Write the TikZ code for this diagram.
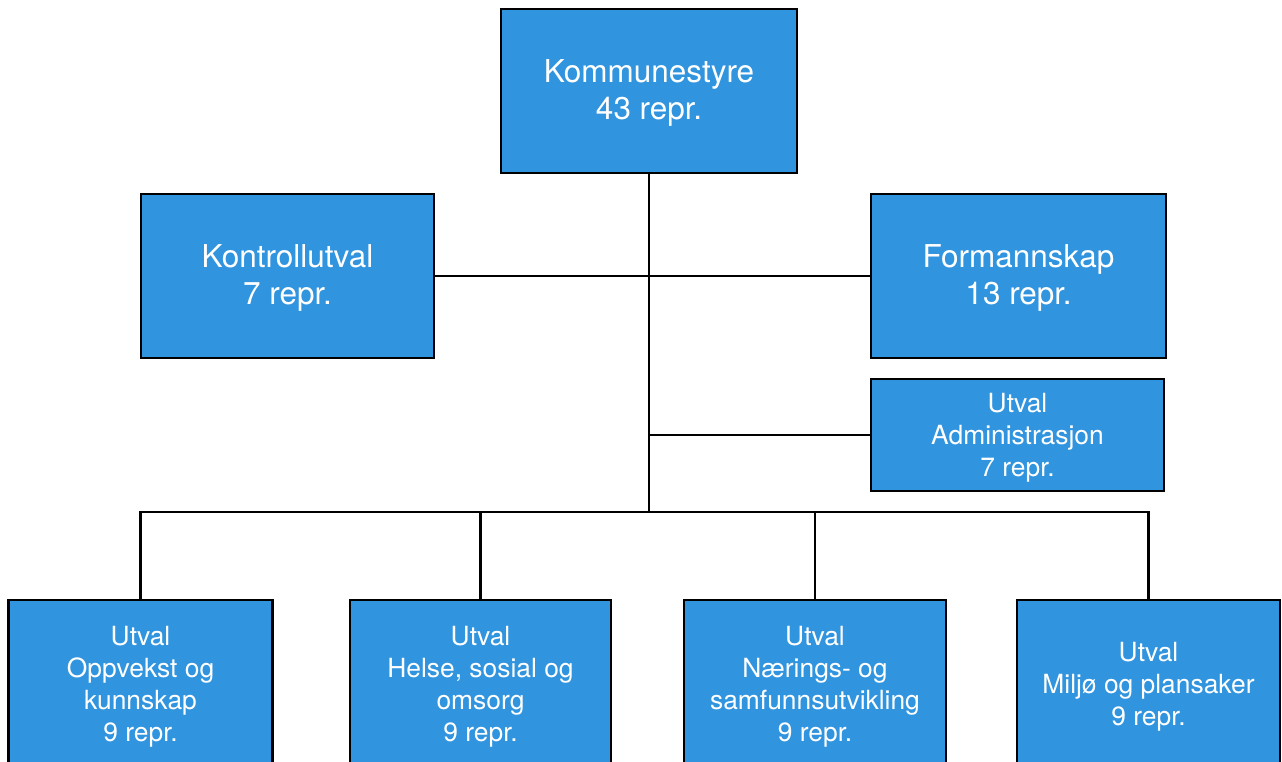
\documentclass[tikz,border=0pt]{standalone}
\usepackage{fontspec}
\setmainfont{TeX Gyre Heros}
\definecolor{boxblue}{RGB}{48,148,223}
\tikzset{
  orgbox/.style={draw=black, line width=2.8pt, fill=boxblue, text=white, align=center, inner sep=0pt, rectangle},
  bigtxt/.style={font=\fontsize{31.5}{37}\selectfont},
  smalltxt/.style={font=\fontsize{26.4}{32}\selectfont},
  conn/.style={draw=black, line width=2.8pt}
}
\newcommand{\dn}[1]{\raisebox{-3pt}[\height][\depth]{\begin{tabular}{@{}c@{}}#1\end{tabular}}}
\begin{document}
\begin{tikzpicture}[x=1pt,y=-1pt]
\useasboundingbox (0,0) rectangle (1282,762);
\node[orgbox,bigtxt,minimum width=296pt,minimum height=164pt] (ks) at (649,91) {\dn{Kommunestyre\\43 repr.}};
\node[orgbox,bigtxt,minimum width=293pt,minimum height=164pt] (ku) at (287.5,276) {\dn{Kontrollutval\\7 repr.}};
\node[orgbox,bigtxt,minimum width=295pt,minimum height=164pt] (fs) at (1018.5,276) {\dn{Formannskap\\13 repr.}};
\node[orgbox,smalltxt,minimum width=293pt,minimum height=112pt] (adm) at (1017.5,435) {\dn{Utval\\Administrasjon\\7 repr.}};
\node[orgbox,smalltxt,minimum width=264pt,minimum height=168pt] (b1) at (140.5,684) {\dn{Utval\\Oppvekst og\\kunnskap\\9 repr.}};
\node[orgbox,smalltxt,minimum width=261pt,minimum height=168pt] (b2) at (480.5,684) {\dn{Utval\\Helse, sosial og\\omsorg\\9 repr.}};
\node[orgbox,smalltxt,minimum width=262pt,minimum height=168pt] (b3) at (815,684) {\dn{Utval\\Nærings- og\\samfunnsutvikling\\9 repr.}};
\node[orgbox,smalltxt,minimum width=263pt,minimum height=168pt] (b4) at (1148.5,684) {\dn{Utval\\Miljø og plansaker\\9 repr.}};
\coordinate (j) at (649,512);
\draw[conn] (ks.south) -- (j);
\draw[conn] (ku.east) -- (fs.west);
\draw[conn] (ks.south |- adm.west) -- (adm.west);
\draw[conn,line join=miter] (b1.north) -- (b1.north |- j) -- (b4.north |- j) -- (b4.north);
\draw[conn] (b2.north) -- (b2.north |- j);
\draw[conn] (b3.north) -- (b3.north |- j);
\end{tikzpicture}
\end{document}
